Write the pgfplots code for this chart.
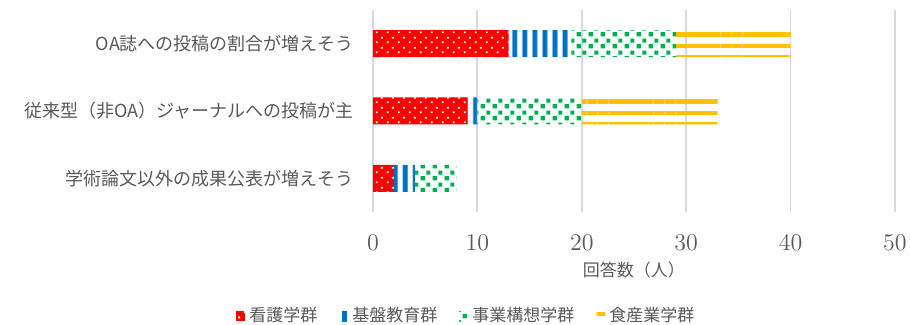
\documentclass[border=0pt]{standalone}
\usepackage{pgfplots}
\pgfplotsset{compat=1.18}
\usepackage{fontspec}
\newfontfamily\cjk{Noto Sans CJK JP}
\usetikzlibrary{patterns,patterns.meta}
\definecolor{cred}{HTML}{FF0000}
\definecolor{cblue}{HTML}{0070C0}
\definecolor{cgreen}{HTML}{00B050}
\definecolor{cyellow}{HTML}{FFC000}
\definecolor{tgray}{HTML}{595959}
\definecolor{ggray}{HTML}{D9D9D9}
\pgfdeclarepatternformonly{wdots}{\pgfpointorigin}{\pgfpoint{5.5pt}{5pt}}{\pgfpoint{5.5pt}{5pt}}{%
  \pgfpathrectangle{\pgfpoint{1pt}{1pt}}{\pgfpoint{1pt}{1pt}}%
  \pgfpathrectangle{\pgfpoint{3.75pt}{3.5pt}}{\pgfpoint{1pt}{1pt}}%
  \pgfusepath{fill}}
\pgfdeclarepatternformonly{gsq}{\pgfpointorigin}{\pgfpoint{6pt}{6pt}}{\pgfpoint{6pt}{6pt}}{%
  \pgfpathrectangle{\pgfpoint{0.4pt}{0.4pt}}{\pgfpoint{2.2pt}{2.2pt}}%
  \pgfpathrectangle{\pgfpoint{3.4pt}{3.4pt}}{\pgfpoint{2.2pt}{2.2pt}}%
  \pgfusepath{fill}}
\begin{document}
\begin{tikzpicture}
\begin{axis}[
  xbar stacked,
  scale only axis,
  width=261pt, height=101pt,
  xmin=0, xmax=50, ymin=-0.5, ymax=2.5,
  bar width=13.5pt,
  xtick={0,10,...,50},
  ytick={0,1,2},
  yticklabels={学術論文以外の成果公表が増えそう,従来型（非OA）ジャーナルへの投稿が主,OA誌への投稿の割合が増えそう},
  xmajorgrids,
  major grid style={draw=ggray, line width=0.9pt},
  axis line style={draw=none},
  tick style={draw=none},
  xticklabel style={anchor=center, yshift=-15.5pt, text=tgray, font=\fontsize{11.5}{13}\selectfont},
  yticklabel style={anchor=east, xshift=-6pt, text=tgray, font=\cjk\fontsize{9}{11}\selectfont},
  xlabel={回答数（人）},
  xlabel style={at={(axis description cs:0.5,-0.287)}, anchor=center, text=tgray, font=\cjk\fontsize{8.5}{10}\selectfont},
  legend columns=4,
  legend style={at={(axis description cs:0.181,-0.515)}, anchor=center, draw=none, fill=none,
    font=\cjk\fontsize{8.5}{10}\selectfont, text=tgray,
    /tikz/every even column/.append style={column sep=9pt}},
  legend image code/.code={\path[#1] (0pt,-2.5pt) rectangle (4.5pt,2.5pt);},
]
\addplot[draw=none, fill=cred, postaction={pattern=wdots, pattern color=white}] coordinates {(2,0) (9,1) (13,2)};
\addplot[draw=none, pattern={Lines[angle=90,distance=5.22pt,line width=2.6pt]}, pattern color=cblue] coordinates {(2,0) (1,1) (6,2)};
\addplot[draw=none, pattern=gsq, pattern color=cgreen] coordinates {(4,0) (10,1) (10,2)};
\addplot[draw=none, pattern={Lines[angle=0,distance=5.5833pt,line width=2.2pt]}, pattern color=cyellow] coordinates {(0,0) (13,1) (11,2)};
\legend{看護学群,基盤教育群,事業構想学群,食産業学群}
\end{axis}
\pgfresetboundingbox
\path (-186.5pt,-56.5pt) rectangle (268.5pt,106pt);
\end{tikzpicture}
\end{document}
